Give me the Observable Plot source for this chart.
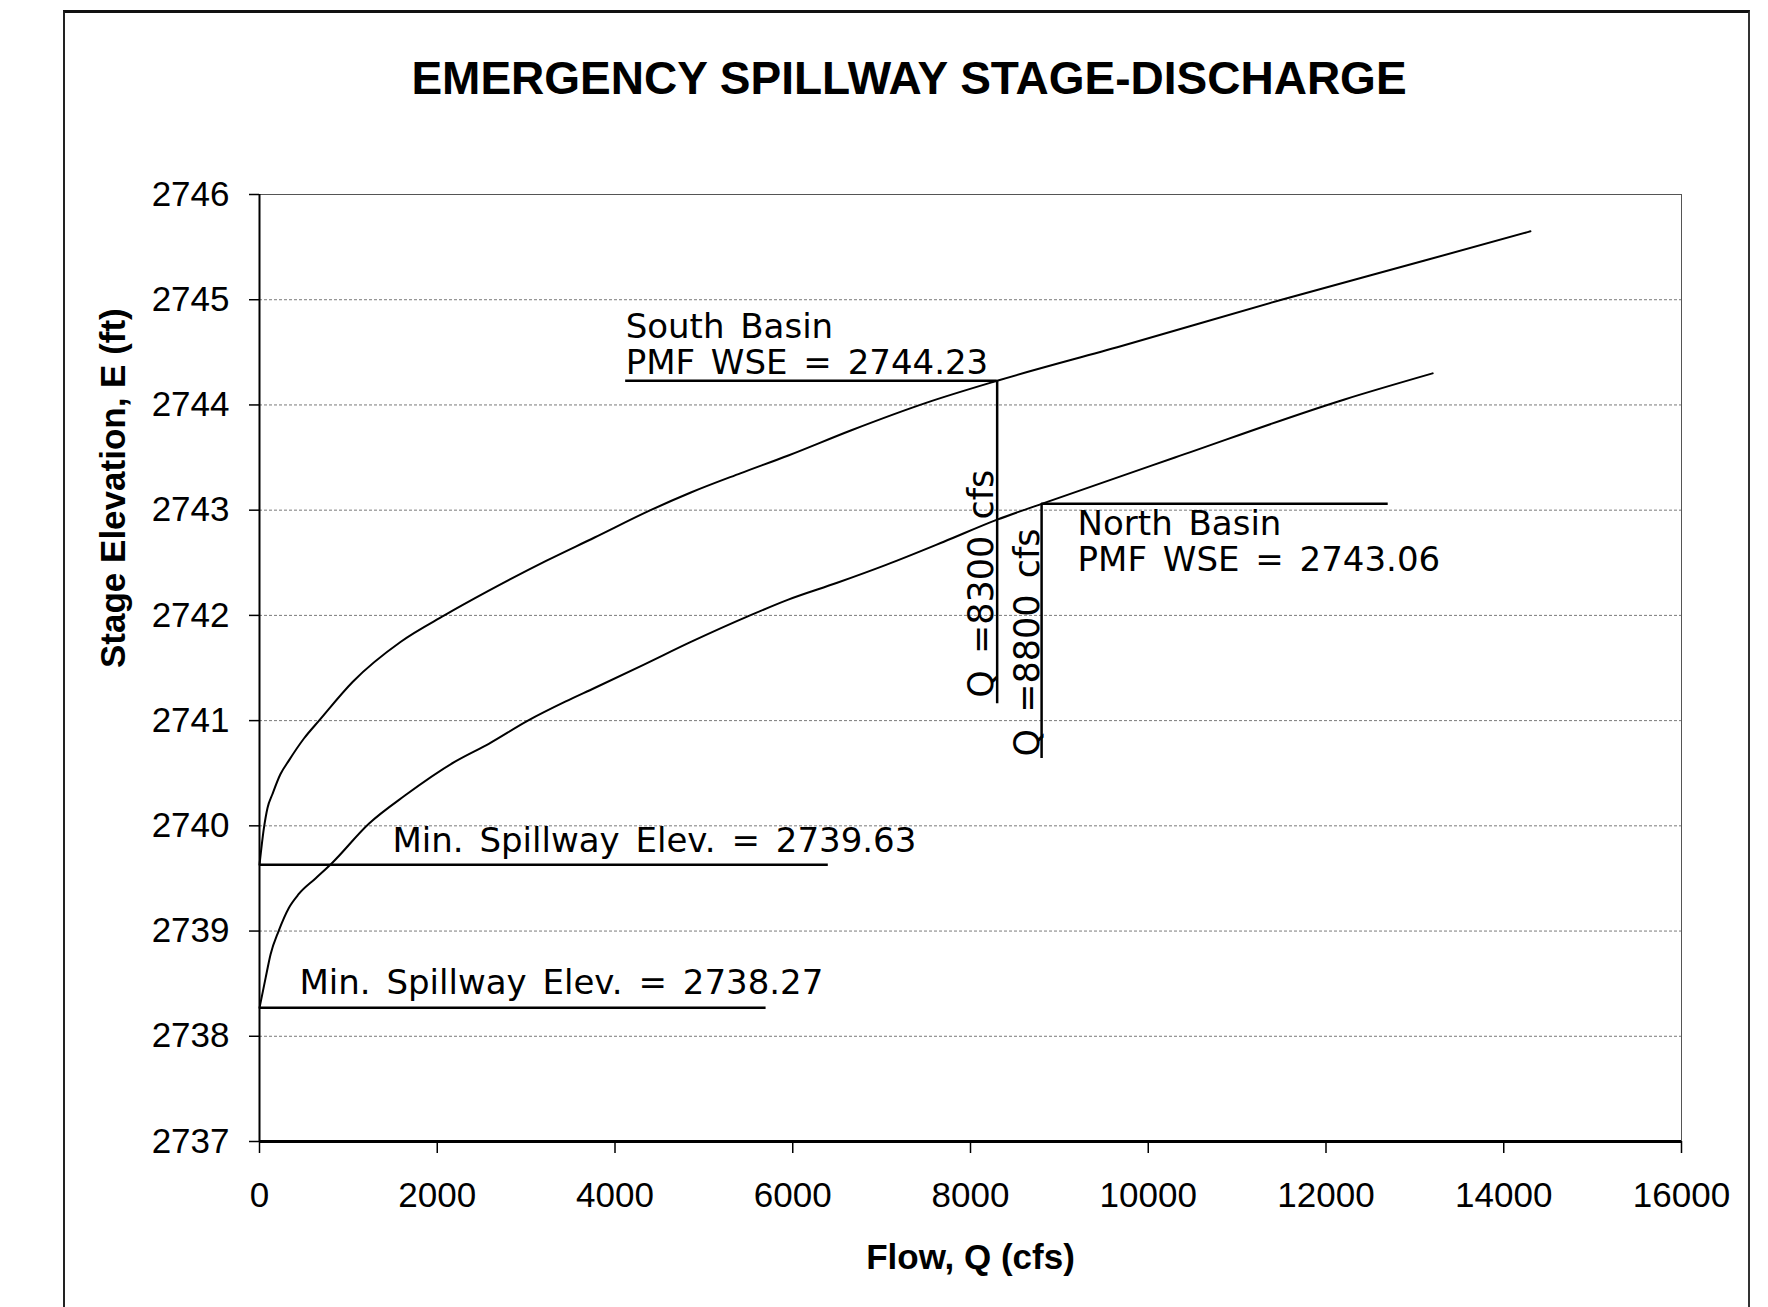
<!DOCTYPE html>
<html>
<head>
<meta charset="utf-8">
<script src="https://cdn.jsdelivr.net/npm/d3@7"></script>
<script src="https://cdn.jsdelivr.net/npm/@observablehq/plot@0.6"></script>
<style>
  html, body { margin: 0; padding: 0; background: #fff; }
  #page { position: relative; width: 1768px; height: 1307px; overflow: hidden; background: #fff; }
  #frame { position: absolute; left: 63px; top: 10px; width: 1687px; height: 1400px; box-sizing: border-box; z-index: 5;
           pointer-events: none; border-top: 3px solid #111; border-left: 2px solid #222; border-right: 2px solid #333; }
  #title { position: absolute; left: 909px; top: 55px; transform: translateX(-50%); white-space: nowrap; z-index: 4;
           font: bold 46px "Liberation Sans", Arial, sans-serif; line-height: 46px; color: #000; }
  #chart { position: absolute; left: 0; top: 130px; z-index: 1; }
  .anno text, text.anno, .anno { word-spacing: 5px; }
</style>
</head>
<body>
<div id="page">
  <div id="title"></div>
  <div id="chart"></div>
  <div id="frame"></div>
</div>
<script>
// ---- data ----
const titleText = "EMERGENCY SPILLWAY STAGE-DISCHARGE";
const xLabel = "Flow, Q (cfs)";
const yLabel = "Stage Elevation, E (ft)";
const xTicks = [0, 2000, 4000, 6000, 8000, 10000, 12000, 14000, 16000];
const yTicks = [2737, 2738, 2739, 2740, 2741, 2742, 2743, 2744, 2745, 2746];

// South Basin rating curve (upper)
const southQ = [0, 50, 90, 145, 235, 330, 500, 670, 1050, 1590, 2080, 2570, 3230, 3770, 4400, 4860, 5410, 5950, 6660, 7500, 8300, 9700, 11500, 13100, 14300];
const southE = [2739.63, 2739.98, 2740.17, 2740.30, 2740.49, 2740.62, 2740.83, 2741.0, 2741.37, 2741.75, 2742.0, 2742.23, 2742.52, 2742.74, 2743.0, 2743.17, 2743.35, 2743.52, 2743.76, 2744.02, 2744.23, 2744.56, 2745.0, 2745.37, 2745.65];

// North Basin rating curve (lower)
const northQ = [0, 70, 125, 215, 330, 440, 630, 820, 1230, 1640, 2200, 2580, 3020, 3440, 3770, 4320, 4860, 5520, 5950, 6500, 7050, 7700, 8300, 8800, 10300, 12200, 13200];
const northE = [2738.27, 2738.56, 2738.78, 2739.0, 2739.22, 2739.35, 2739.50, 2739.65, 2740.02, 2740.29, 2740.61, 2740.78, 2741.0, 2741.18, 2741.31, 2741.53, 2741.75, 2742.0, 2742.15, 2742.31, 2742.48, 2742.70, 2742.91, 2743.06, 2743.5, 2744.05, 2744.3];

// horizontal reference lines
const hLineE  = [2744.23, 2743.06, 2739.63, 2738.27];
const hLineQ1 = [4120, 8800, 0, 0];
const hLineQ2 = [8300, 12700, 6400, 5700];

// vertical reference lines
const vLineQ  = [8300, 8800];
const vLineE1 = [2741.16, 2740.64];
const vLineE2 = [2744.23, 2743.06];

// annotation texts
const southNote = "South Basin\nPMF WSE = 2744.23";
const northNote = "North Basin\nPMF WSE = 2743.06";
const minNoteS  = "Min. Spillway Elev. = 2739.63";
const minNoteN  = "Min. Spillway Elev. = 2738.27";
const qNoteS    = "Q =8300 cfs";
const qNoteN    = "Q =8800 cfs";

// ---- tables ----
const south = southQ.map((q, i) => ({Q: q, E: southE[i]}));
const north = northQ.map((q, i) => ({Q: q, E: northE[i]}));
const hLines = hLineE.map((e, i) => ({E: e, Q1: hLineQ1[i], Q2: hLineQ2[i]}));
const vLines = vLineQ.map((q, i) => ({Q: q, E1: vLineE1[i], E2: vLineE2[i]}));
const gridY = yTicks.slice(1, -1);

document.getElementById("title").textContent = titleText;

const annoFont = "DejaVu Sans, Verdana, sans-serif";
function note(label, q, e, opts) {
  return Plot.text([{Q: q, E: e, label}], Object.assign({
    x: "Q", y: "E", text: "label", textAnchor: "start", fill: "black",
    fontSize: 34, lineHeight: 1.06, fontFamily: annoFont, className: "anno"
  }, opts));
}

const chart = Plot.plot({
  width: 1768,
  height: 1177,
  marginLeft: 259,
  marginRight: 87,
  marginTop: 64,
  marginBottom: 166,
  style: {fontFamily: '"Liberation Sans", Arial, sans-serif', background: "white", color: "black", overflow: "visible"},
  x: {domain: [0, 16000], axis: null},
  y: {domain: [2737, 2746], axis: null},
  marks: [
    Plot.ruleY(gridY, {stroke: "#7a7a7a", strokeWidth: 1, strokeDasharray: "3,2"}),
    Plot.ruleY([2746], {stroke: "#555", strokeWidth: 1}),
    Plot.ruleX([16000], {stroke: "#555", strokeWidth: 1}),
    Plot.axisY({ticks: yTicks, tickSize: 10, tickPadding: 20, tickFormat: d3.format("d"), fontSize: 35, label: null, strokeWidth: 1.5}),
    Plot.axisX({ticks: xTicks, tickSize: 12, tickPadding: 29, tickFormat: d3.format("d"), fontSize: 35, label: null, strokeWidth: 1.5}),
    Plot.ruleX([0], {stroke: "black", strokeWidth: 2}),
    Plot.ruleY([2737], {stroke: "black", strokeWidth: 3}),
    Plot.line(south, {x: "Q", y: "E", stroke: "black", strokeWidth: 2, curve: "monotone-x"}),
    Plot.line(north, {x: "Q", y: "E", stroke: "black", strokeWidth: 2, curve: "monotone-x"}),
    Plot.ruleY(hLines, {y: "E", x1: "Q1", x2: "Q2", stroke: "black", strokeWidth: 2.5}),
    Plot.ruleX(vLines, {x: "Q", y1: "E1", y2: "E2", stroke: "black", strokeWidth: 2.5}),
    note(southNote, hLineQ1[0], hLineE[0], {lineAnchor: "bottom", dy: -7}),
    note(northNote, hLineQ1[1], hLineE[1], {lineAnchor: "top", dx: 36, dy: 6}),
    note(minNoteS, hLineQ1[2], hLineE[2], {lineAnchor: "bottom", dx: 133, dy: -13}),
    note(minNoteN, hLineQ1[3], hLineE[3], {lineAnchor: "bottom", dx: 40, dy: -14}),
    note(qNoteS, vLineQ[0], vLineE1[0], {rotate: -90, lineAnchor: "bottom", dx: -4, dy: -6, fontSize: 35}),
    note(qNoteN, vLineQ[1], vLineE1[1], {rotate: -90, lineAnchor: "bottom", dx: -3, dy: -2, fontSize: 35}),
    Plot.text([xLabel], {text: d => d, frameAnchor: "bottom", dy: 127, lineAnchor: "bottom", fontWeight: "bold", fontSize: 35, fill: "black"}),
    Plot.text([yLabel], {text: d => d, frameAnchor: "left", rotate: -90, dx: -159, lineAnchor: "top", fontWeight: "bold", fontSize: 35, fill: "black"})
  ]
});
document.getElementById("chart").appendChild(chart);
</script>
</body>
</html>
